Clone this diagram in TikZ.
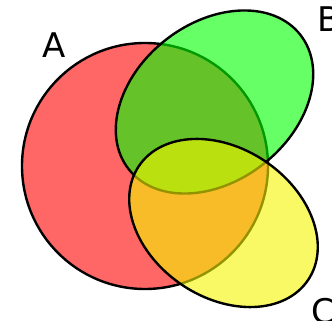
\documentclass[tikz,border=0pt]{standalone}
\usepackage{fontspec}
\setmainfont{DejaVu Sans}
\definecolor{setA}{RGB}{255,0,0}
\definecolor{setB}{RGB}{0,255,0}
\definecolor{setC}{RGB}{245,245,0}
\tikzset{
  setshape/.style={draw=black, line width=2.4pt, fill opacity=0.6},
  setlabel/.style={anchor=base west, inner sep=0pt, font=\fontsize{34}{40}\selectfont}
}
\begin{document}
\begin{tikzpicture}[x=1pt,y=1pt]
\useasboundingbox (0,0) rectangle (332,321);
\coordinate (ca) at (145,155);
\coordinate (cb) at (214.5,219);
\coordinate (cc) at (223.5,98);
\path[setshape, fill=setA] (ca) circle [radius=123];
\path[setshape, fill=setB, rotate around={38:(cb)}] (cb) ellipse [x radius=109, y radius=79];
\path[setshape, fill=setC, rotate around={-34:(cc)}] (cc) ellipse [x radius=102, y radius=74.5];
\node[setlabel] (la) at (42,263) {A};
\node[setlabel] (lb) at (317,289) {B};
\node[setlabel] (lc) at (311,-3) {C};
\end{tikzpicture}
\end{document}
